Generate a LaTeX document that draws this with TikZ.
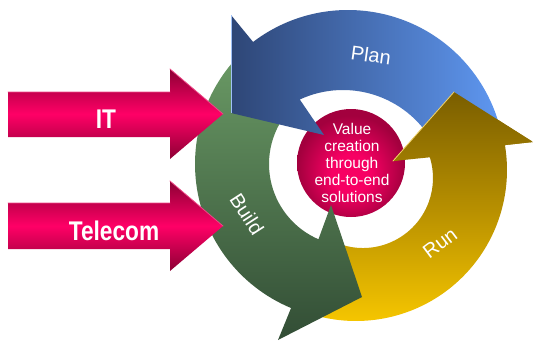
\documentclass[tikz,border=0pt]{standalone}
\usepackage{fontspec}
\setmainfont{Liberation Sans}
\usetikzlibrary{calc}

\definecolor{pinkdk}{HTML}{8C0034}
\definecolor{pinkhi}{HTML}{FF0066}
\definecolor{pinkedge}{HTML}{EE4A88}
\definecolor{ballhi}{HTML}{F70063}
\definecolor{balldk}{HTML}{A3003E}
\definecolor{planL}{HTML}{2E4676}
\definecolor{planR}{HTML}{5F98F2}
\definecolor{buildT}{HTML}{6A9A65}
\definecolor{buildB}{HTML}{324D35}
\definecolor{runT}{HTML}{7A5E00}
\definecolor{runM}{HTML}{B89000}
\definecolor{runB}{HTML}{F9C900}
\definecolor{runedge}{HTML}{F2D46A}

\pgfdeclareradialshading{ballshade}{\pgfpoint{0bp}{-6bp}}{%
  color(0bp)=(ballhi); color(9bp)=(ballhi); color(25bp)=(balldk); color(50bp)=(balldk)}

\begin{document}
\begin{tikzpicture}[x=1pt,y=-1pt,
  inarrow/.style={top color=pinkdk, bottom color=pinkdk, middle color=pinkhi},
  bevel/.style={line width=0.8, line cap=round},
  planfill/.style={left color=planL, right color=planR},
  buildfill/.style={top color=buildT, bottom color=buildB},
  runfill/.style={top color=runT, bottom color=runB, middle color=runM},
  phase/.style={text=white, inner sep=0pt, font=\fontsize{20}{24}\selectfont},
  source/.style={text=white, inner sep=0pt, anchor=base, xscale=0.84,
                 font=\fontsize{27}{30}\selectfont\bfseries},
  core/.style={text=white, inner sep=0pt, align=center,
               font=\fontsize{15.5}{17}\selectfont}]
\useasboundingbox (0,0) rectangle (533,341);

% centres of the ring arcs
\coordinate (Cpo) at (348,167);
\coordinate (Cpi) at (343,193);
\coordinate (Cbd) at (351,164);
\coordinate (Cro) at (356,170);
\coordinate (Cri) at (363,178);

% arrow heads: inner barb, tip, outer barb
\coordinate (pB1) at (324,135);
\coordinate (pT)  at (231,113);
\coordinate (pB2) at (231,15);
\coordinate (bB1) at (331,205);
\coordinate (bT)  at (362,297);
\coordinate (bB2) at (278,340);
\coordinate (rB1) at (393,161);
\coordinate (rT)  at (454,92);
\coordinate (rB2) at (533,142);

% incoming arrows: body corners, head corners and tip
\coordinate (iA) at (8,92);    \coordinate (iB) at (170,92);
\coordinate (iH) at (170,69);  \coordinate (iT) at (223,114);
\coordinate (tA) at (8,203);   \coordinate (tB) at (170,203);
\coordinate (tH) at (170,181); \coordinate (tT) at (223,226);

\newcommand\runshape{%
  ($(Cro)+(-9.5:151)$) arc[start angle=-9.5, end angle=105, radius=151]
  -- ($(Cri)+(110:70)$) arc[start angle=110, end angle=-17.2, radius=70]
  -- (rB1) -- (rT) -- (rB2) -- cycle}

% central disc
\shade[shading=ballshade] (351,163) circle[radius=54];

% Run
\shade[runfill] \runshape;

% Build
\shade[buildfill]
  ($(Cbd)+(112.6:156)$) arc[start angle=112.6, end angle=225, radius=156]
  -- ($(Cbd)+(225:82)$) arc[start angle=225, end angle=113.4, radius=82]
  -- (bB1) -- (bT) -- (bB2) -- cycle;

% Plan
\shade[planfill]
  ($(Cpo)+(-127.2:157)$) arc[start angle=-127.2, end angle=-10, radius=157]
  -- ($(Cpi)+(-30:103)$) arc[start angle=-30, end angle=-114.8, radius=103]
  -- (pB1) -- (pT) -- (pB2) -- cycle;
\draw[planR!60!white, line width=0.8] (pB2) -- (pT);

% head of Run lies over the tail of Plan
\begin{scope}
  \clip (rB1) -- (rT) -- (rB2) -- cycle;
  \shade[runfill] \runshape;
\end{scope}
\draw[bevel, runedge] (rB1) -- (rT);

% incoming arrows
\shade[inarrow] (iA) -- (iB) -- (iH) -- (iT)
  -- (170,159) -- (170,137) -- (8,137) -- cycle;
\draw[bevel, pinkedge] (iA) -- (iB) (iH) -- (iT);
\shade[inarrow] (tA) -- (tB) -- (tH) -- (tT)
  -- (170,271) -- (170,249) -- (8,249) -- cycle;
\draw[bevel, pinkedge] (tA) -- (tB) (tH) -- (tT);

% labels
\node[source] (it) at (106,128) {IT};
\node[source] (tel) at (114,240) {Telecom};
\node[phase, rotate=-8] (plan) at (371,55) {Plan};
\node[phase, rotate=-57] (build) at (247,214) {Build};
\node[phase, rotate=37] (run) at (440,243) {Run};
\node[core] (value) at (352,163) {Value\\creation\\through\\end-to-end\\solutions};
\end{tikzpicture}
\end{document}
